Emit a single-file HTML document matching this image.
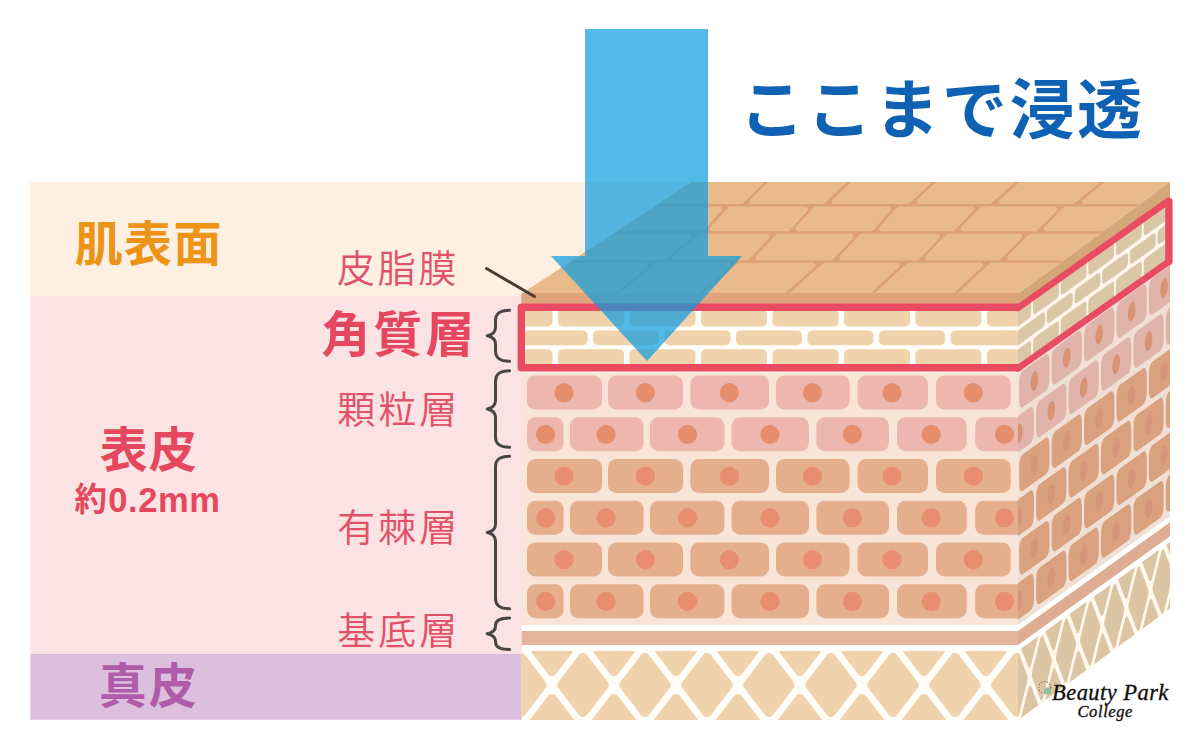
<!DOCTYPE html>
<html lang="ja">
<head>
<meta charset="utf-8">
<title>ここまで浸透</title>
<style>html,body{margin:0;padding:0;background:#fff}body{width:1200px;height:750px;overflow:hidden}svg{display:block}</style>
</head>
<body>
<svg width="1200" height="750" viewBox="0 0 1200 750">
<defs>
<clipPath id="cf"><rect x="521.5" y="294" width="496.5" height="426"/></clipPath>
<clipPath id="cside"><polygon points="1018,294 1170,182 1170,608.5 1018,720"/></clipPath>
<clipPath id="cd"><rect x="500" y="651" width="540" height="80"/></clipPath>
<clipPath id="cds"><rect x="-5" y="651" width="440" height="100"/></clipPath>
</defs>
<rect width="1200" height="750" fill="#fff"/>
<rect x="30.4" y="182.2" width="700" height="114" fill="#FDF0E0"/>
<rect x="30.4" y="296" width="495" height="358" fill="#FBE3E3"/>
<rect x="30.4" y="654" width="495" height="65.8" fill="#DCBFDC"/>
<g clip-path="url(#cf)">
<rect x="521.5" y="294" width="496.5" height="426" fill="#F9E4D8"/>
<rect x="521.5" y="294" width="496.5" height="10" fill="#DFA47B"/>
<rect x="521.5" y="303.5" width="496.5" height="69" fill="#FFFDF9"/>
<rect x="486.5" y="309" width="66" height="17.4" rx="5" ry="5" fill="#F0D2AC"/>
<rect x="558" y="309" width="66" height="17.4" rx="5" ry="5" fill="#F0D2AC"/>
<rect x="629.5" y="309" width="66" height="17.4" rx="5" ry="5" fill="#F0D2AC"/>
<rect x="701" y="309" width="66" height="17.4" rx="5" ry="5" fill="#F0D2AC"/>
<rect x="772.5" y="309" width="66" height="17.4" rx="5" ry="5" fill="#F0D2AC"/>
<rect x="844" y="309" width="66" height="17.4" rx="5" ry="5" fill="#F0D2AC"/>
<rect x="915.5" y="309" width="66" height="17.4" rx="5" ry="5" fill="#F0D2AC"/>
<rect x="987" y="309" width="66" height="17.4" rx="5" ry="5" fill="#F0D2AC"/>
<rect x="521.5" y="330.4" width="66" height="14.8" rx="5" ry="5" fill="#F0D2AC"/>
<rect x="593" y="330.4" width="66" height="14.8" rx="5" ry="5" fill="#F0D2AC"/>
<rect x="664.5" y="330.4" width="66" height="14.8" rx="5" ry="5" fill="#F0D2AC"/>
<rect x="736" y="330.4" width="66" height="14.8" rx="5" ry="5" fill="#F0D2AC"/>
<rect x="807.5" y="330.4" width="66" height="14.8" rx="5" ry="5" fill="#F0D2AC"/>
<rect x="879" y="330.4" width="66" height="14.8" rx="5" ry="5" fill="#F0D2AC"/>
<rect x="950.5" y="330.4" width="66" height="14.8" rx="5" ry="5" fill="#F0D2AC"/>
<rect x="1022" y="330.4" width="66" height="14.8" rx="5" ry="5" fill="#F0D2AC"/>
<rect x="486.5" y="349.2" width="66" height="17" rx="5" ry="5" fill="#F0D2AC"/>
<rect x="558" y="349.2" width="66" height="17" rx="5" ry="5" fill="#F0D2AC"/>
<rect x="629.5" y="349.2" width="66" height="17" rx="5" ry="5" fill="#F0D2AC"/>
<rect x="701" y="349.2" width="66" height="17" rx="5" ry="5" fill="#F0D2AC"/>
<rect x="772.5" y="349.2" width="66" height="17" rx="5" ry="5" fill="#F0D2AC"/>
<rect x="844" y="349.2" width="66" height="17" rx="5" ry="5" fill="#F0D2AC"/>
<rect x="915.5" y="349.2" width="66" height="17" rx="5" ry="5" fill="#F0D2AC"/>
<rect x="987" y="349.2" width="66" height="17" rx="5" ry="5" fill="#F0D2AC"/>
<rect x="1000" y="330.4" width="30" height="14.8" fill="#F0D2AC"/>
<rect x="527" y="375.5" width="75" height="34" rx="8.5" fill="#EDB6AE"/>
<circle cx="564" cy="392.7" r="9.6" fill="#E68E6C"/>
<rect x="608" y="375.5" width="75" height="34" rx="8.5" fill="#EDB6AE"/>
<circle cx="645.4" cy="392.7" r="9.6" fill="#E68E6C"/>
<rect x="690.4" y="375.5" width="78.6" height="34" rx="8.5" fill="#EDB6AE"/>
<circle cx="729.4" cy="392.7" r="9.6" fill="#E68E6C"/>
<rect x="776" y="375.5" width="73.6" height="34" rx="8.5" fill="#EDB6AE"/>
<circle cx="812.4" cy="392.7" r="9.6" fill="#E68E6C"/>
<rect x="857.6" y="375.5" width="70.4" height="34" rx="8.5" fill="#EDB6AE"/>
<circle cx="892" cy="392.7" r="9.6" fill="#E68E6C"/>
<rect x="936" y="375.5" width="74.7" height="34" rx="8.5" fill="#EDB6AE"/>
<circle cx="973.3" cy="392.7" r="9.6" fill="#E68E6C"/>
<rect x="527" y="417.25" width="36.6" height="34" rx="8.5" fill="#EDB6AE"/>
<circle cx="545.6" cy="434.45" r="9.6" fill="#E68E6C"/>
<rect x="570" y="417.25" width="73.6" height="34" rx="8.5" fill="#EDB6AE"/>
<circle cx="606" cy="434.45" r="9.6" fill="#E68E6C"/>
<rect x="650" y="417.25" width="74.4" height="34" rx="8.5" fill="#EDB6AE"/>
<circle cx="687.5" cy="434.45" r="9.6" fill="#E68E6C"/>
<rect x="731.6" y="417.25" width="77.4" height="34" rx="8.5" fill="#EDB6AE"/>
<circle cx="770" cy="434.45" r="9.6" fill="#E68E6C"/>
<rect x="816.4" y="417.25" width="72.6" height="34" rx="8.5" fill="#EDB6AE"/>
<circle cx="852.4" cy="434.45" r="9.6" fill="#E68E6C"/>
<rect x="897" y="417.25" width="69.7" height="34" rx="8.5" fill="#EDB6AE"/>
<circle cx="931.2" cy="434.45" r="9.6" fill="#E68E6C"/>
<rect x="975.2" y="417.25" width="76.8" height="34" rx="8.5" fill="#EDB6AE"/>
<circle cx="1004.5" cy="434.45" r="9.6" fill="#E68E6C"/>
<rect x="527" y="459" width="75" height="34" rx="8.5" fill="#E5AE8C"/>
<circle cx="564" cy="476.2" r="9.6" fill="#E98D72"/>
<rect x="608" y="459" width="75" height="34" rx="8.5" fill="#E5AE8C"/>
<circle cx="645.4" cy="476.2" r="9.6" fill="#E98D72"/>
<rect x="690.4" y="459" width="78.6" height="34" rx="8.5" fill="#E5AE8C"/>
<circle cx="729.4" cy="476.2" r="9.6" fill="#E98D72"/>
<rect x="776" y="459" width="73.6" height="34" rx="8.5" fill="#E5AE8C"/>
<circle cx="812.4" cy="476.2" r="9.6" fill="#E98D72"/>
<rect x="857.6" y="459" width="70.4" height="34" rx="8.5" fill="#E5AE8C"/>
<circle cx="892" cy="476.2" r="9.6" fill="#E98D72"/>
<rect x="936" y="459" width="74.7" height="34" rx="8.5" fill="#E5AE8C"/>
<circle cx="973.3" cy="476.2" r="9.6" fill="#E98D72"/>
<rect x="527" y="500.75" width="36.6" height="34" rx="8.5" fill="#E5AE8C"/>
<circle cx="545.6" cy="517.95" r="9.6" fill="#E98D72"/>
<rect x="570" y="500.75" width="73.6" height="34" rx="8.5" fill="#E5AE8C"/>
<circle cx="606" cy="517.95" r="9.6" fill="#E98D72"/>
<rect x="650" y="500.75" width="74.4" height="34" rx="8.5" fill="#E5AE8C"/>
<circle cx="687.5" cy="517.95" r="9.6" fill="#E98D72"/>
<rect x="731.6" y="500.75" width="77.4" height="34" rx="8.5" fill="#E5AE8C"/>
<circle cx="770" cy="517.95" r="9.6" fill="#E98D72"/>
<rect x="816.4" y="500.75" width="72.6" height="34" rx="8.5" fill="#E5AE8C"/>
<circle cx="852.4" cy="517.95" r="9.6" fill="#E98D72"/>
<rect x="897" y="500.75" width="69.7" height="34" rx="8.5" fill="#E5AE8C"/>
<circle cx="931.2" cy="517.95" r="9.6" fill="#E98D72"/>
<rect x="975.2" y="500.75" width="76.8" height="34" rx="8.5" fill="#E5AE8C"/>
<circle cx="1004.5" cy="517.95" r="9.6" fill="#E98D72"/>
<rect x="527" y="542.5" width="75" height="34" rx="8.5" fill="#E5AE8C"/>
<circle cx="564" cy="559.7" r="9.6" fill="#E98D72"/>
<rect x="608" y="542.5" width="75" height="34" rx="8.5" fill="#E5AE8C"/>
<circle cx="645.4" cy="559.7" r="9.6" fill="#E98D72"/>
<rect x="690.4" y="542.5" width="78.6" height="34" rx="8.5" fill="#E5AE8C"/>
<circle cx="729.4" cy="559.7" r="9.6" fill="#E98D72"/>
<rect x="776" y="542.5" width="73.6" height="34" rx="8.5" fill="#E5AE8C"/>
<circle cx="812.4" cy="559.7" r="9.6" fill="#E98D72"/>
<rect x="857.6" y="542.5" width="70.4" height="34" rx="8.5" fill="#E5AE8C"/>
<circle cx="892" cy="559.7" r="9.6" fill="#E98D72"/>
<rect x="936" y="542.5" width="74.7" height="34" rx="8.5" fill="#E5AE8C"/>
<circle cx="973.3" cy="559.7" r="9.6" fill="#E98D72"/>
<rect x="527" y="584.25" width="36.6" height="34" rx="8.5" fill="#E5AE8C"/>
<circle cx="545.6" cy="601.45" r="9.6" fill="#E98D72"/>
<rect x="570" y="584.25" width="73.6" height="34" rx="8.5" fill="#E5AE8C"/>
<circle cx="606" cy="601.45" r="9.6" fill="#E98D72"/>
<rect x="650" y="584.25" width="74.4" height="34" rx="8.5" fill="#E5AE8C"/>
<circle cx="687.5" cy="601.45" r="9.6" fill="#E98D72"/>
<rect x="731.6" y="584.25" width="77.4" height="34" rx="8.5" fill="#E5AE8C"/>
<circle cx="770" cy="601.45" r="9.6" fill="#E98D72"/>
<rect x="816.4" y="584.25" width="72.6" height="34" rx="8.5" fill="#E5AE8C"/>
<circle cx="852.4" cy="601.45" r="9.6" fill="#E98D72"/>
<rect x="897" y="584.25" width="69.7" height="34" rx="8.5" fill="#E5AE8C"/>
<circle cx="931.2" cy="601.45" r="9.6" fill="#E98D72"/>
<rect x="975.2" y="584.25" width="76.8" height="34" rx="8.5" fill="#E5AE8C"/>
<circle cx="1004.5" cy="601.45" r="9.6" fill="#E98D72"/>
<rect x="521.5" y="625" width="496.5" height="26" fill="#FFFFFF"/>
<rect x="521.5" y="631" width="496.5" height="14" fill="#E5B49C"/>
<g clip-path="url(#cd)"><rect x="521.5" y="645" width="496.5" height="110" fill="#FFFDF8"/>
<path d="M500.3 685L521 658.02L541.7 685L521 711.98ZM469.3 644L490 617.02L510.7 644L490 670.98ZM469.3 726L490 699.02L510.7 726L490 752.98ZM500.3 767L521 740.02L541.7 767L521 793.98ZM562.3 685L583 658.02L603.7 685L583 711.98ZM531.3 644L552 617.02L572.7 644L552 670.98ZM531.3 726L552 699.02L572.7 726L552 752.98ZM562.3 767L583 740.02L603.7 767L583 793.98ZM624.3 685L645 658.02L665.7 685L645 711.98ZM593.3 644L614 617.02L634.7 644L614 670.98ZM593.3 726L614 699.02L634.7 726L614 752.98ZM624.3 767L645 740.02L665.7 767L645 793.98ZM686.3 685L707 658.02L727.7 685L707 711.98ZM655.3 644L676 617.02L696.7 644L676 670.98ZM655.3 726L676 699.02L696.7 726L676 752.98ZM686.3 767L707 740.02L727.7 767L707 793.98ZM748.3 685L769 658.02L789.7 685L769 711.98ZM717.3 644L738 617.02L758.7 644L738 670.98ZM717.3 726L738 699.02L758.7 726L738 752.98ZM748.3 767L769 740.02L789.7 767L769 793.98ZM810.3 685L831 658.02L851.7 685L831 711.98ZM779.3 644L800 617.02L820.7 644L800 670.98ZM779.3 726L800 699.02L820.7 726L800 752.98ZM810.3 767L831 740.02L851.7 767L831 793.98ZM872.3 685L893 658.02L913.7 685L893 711.98ZM841.3 644L862 617.02L882.7 644L862 670.98ZM841.3 726L862 699.02L882.7 726L862 752.98ZM872.3 767L893 740.02L913.7 767L893 793.98ZM934.3 685L955 658.02L975.7 685L955 711.98ZM903.3 644L924 617.02L944.7 644L924 670.98ZM903.3 726L924 699.02L944.7 726L924 752.98ZM934.3 767L955 740.02L975.7 767L955 793.98ZM996.3 685L1017 658.02L1037.7 685L1017 711.98ZM965.3 644L986 617.02L1006.7 644L986 670.98ZM965.3 726L986 699.02L1006.7 726L986 752.98ZM996.3 767L1017 740.02L1037.7 767L1017 793.98ZM1058.3 685L1079 658.02L1099.7 685L1079 711.98ZM1027.3 644L1048 617.02L1068.7 644L1048 670.98ZM1027.3 726L1048 699.02L1068.7 726L1048 752.98ZM1058.3 767L1079 740.02L1099.7 767L1079 793.98Z" fill="#F0D3AD" stroke="#F0D3AD" stroke-width="10" stroke-linejoin="round"/></g>
</g>
<g clip-path="url(#cside)">
<polygon points="1018,280 1170,170 1170,620 1018,730" fill="#F0DFD5"/>
<g transform="matrix(0.38680 -0.27656 0 1 1018.000 0)">
<rect x="0" y="303.5" width="420" height="69" fill="#FFF8EA"/>
<rect x="-32.8" y="309" width="67" height="17.4" rx="8" ry="3.5" fill="#D9C7A8"/>
<rect x="38.7" y="309" width="67" height="17.4" rx="8" ry="3.5" fill="#D9C7A8"/>
<rect x="110.2" y="309" width="67" height="17.4" rx="8" ry="3.5" fill="#D9C7A8"/>
<rect x="181.7" y="309" width="67" height="17.4" rx="8" ry="3.5" fill="#D9C7A8"/>
<rect x="253.2" y="309" width="67" height="17.4" rx="8" ry="3.5" fill="#D9C7A8"/>
<rect x="324.7" y="309" width="67" height="17.4" rx="8" ry="3.5" fill="#D9C7A8"/>
<rect x="396.2" y="309" width="67" height="17.4" rx="8" ry="3.5" fill="#D9C7A8"/>
<rect x="3" y="330.4" width="67" height="14.8" rx="8" ry="3.5" fill="#D9C7A8"/>
<rect x="74.5" y="330.4" width="67" height="14.8" rx="8" ry="3.5" fill="#D9C7A8"/>
<rect x="146" y="330.4" width="67" height="14.8" rx="8" ry="3.5" fill="#D9C7A8"/>
<rect x="217.5" y="330.4" width="67" height="14.8" rx="8" ry="3.5" fill="#D9C7A8"/>
<rect x="289" y="330.4" width="67" height="14.8" rx="8" ry="3.5" fill="#D9C7A8"/>
<rect x="360.5" y="330.4" width="67" height="14.8" rx="8" ry="3.5" fill="#D9C7A8"/>
<rect x="-32.8" y="349.2" width="67" height="17" rx="8" ry="3.5" fill="#D9C7A8"/>
<rect x="38.7" y="349.2" width="67" height="17" rx="8" ry="3.5" fill="#D9C7A8"/>
<rect x="110.2" y="349.2" width="67" height="17" rx="8" ry="3.5" fill="#D9C7A8"/>
<rect x="181.7" y="349.2" width="67" height="17" rx="8" ry="3.5" fill="#D9C7A8"/>
<rect x="253.2" y="349.2" width="67" height="17" rx="8" ry="3.5" fill="#D9C7A8"/>
<rect x="324.7" y="349.2" width="67" height="17" rx="8" ry="3.5" fill="#D9C7A8"/>
<rect x="396.2" y="349.2" width="67" height="17" rx="8" ry="3.5" fill="#D9C7A8"/><rect x="-2" y="330.4" width="20" height="14.8" fill="#D9C7A8"/>
</g>
<g transform="matrix(0.39800 -0.28457 0 1 1018.000 0)">
<rect x="3" y="374.25" width="76" height="36.5" rx="9" fill="#E1B4AB"/>
<circle cx="41" cy="392.7" r="9.6" fill="#D69474"/>
<rect x="84.5" y="374.25" width="76" height="36.5" rx="9" fill="#E1B4AB"/>
<circle cx="122.5" cy="392.7" r="9.6" fill="#D69474"/>
<rect x="166" y="374.25" width="76" height="36.5" rx="9" fill="#E1B4AB"/>
<circle cx="204" cy="392.7" r="9.6" fill="#D69474"/>
<rect x="247.5" y="374.25" width="76" height="36.5" rx="9" fill="#E1B4AB"/>
<circle cx="285.5" cy="392.7" r="9.6" fill="#D69474"/>
<rect x="329" y="374.25" width="76" height="36.5" rx="9" fill="#E1B4AB"/>
<circle cx="367" cy="392.7" r="9.6" fill="#D69474"/>
<rect x="410.5" y="374.25" width="76" height="36.5" rx="9" fill="#E1B4AB"/>
<circle cx="448.5" cy="392.7" r="9.6" fill="#D69474"/>
<rect x="-36" y="416" width="76" height="36.5" rx="9" fill="#E1B4AB"/>
<circle cx="2" cy="434.45" r="9.6" fill="#D69474"/>
<rect x="45.5" y="416" width="76" height="36.5" rx="9" fill="#E1B4AB"/>
<circle cx="83.5" cy="434.45" r="9.6" fill="#D69474"/>
<rect x="127" y="416" width="76" height="36.5" rx="9" fill="#E1B4AB"/>
<circle cx="165" cy="434.45" r="9.6" fill="#D69474"/>
<rect x="208.5" y="416" width="76" height="36.5" rx="9" fill="#E1B4AB"/>
<circle cx="246.5" cy="434.45" r="9.6" fill="#D69474"/>
<rect x="290" y="416" width="76" height="36.5" rx="9" fill="#E1B4AB"/>
<circle cx="328" cy="434.45" r="9.6" fill="#D69474"/>
<rect x="371.5" y="416" width="76" height="36.5" rx="9" fill="#E1B4AB"/>
<circle cx="409.5" cy="434.45" r="9.6" fill="#D69474"/>
<rect x="3" y="457.75" width="76" height="36.5" rx="9" fill="#DAA17F"/>
<circle cx="41" cy="476.2" r="9.6" fill="#D6957A"/>
<rect x="84.5" y="457.75" width="76" height="36.5" rx="9" fill="#DAA17F"/>
<circle cx="122.5" cy="476.2" r="9.6" fill="#D6957A"/>
<rect x="166" y="457.75" width="76" height="36.5" rx="9" fill="#DAA17F"/>
<circle cx="204" cy="476.2" r="9.6" fill="#D6957A"/>
<rect x="247.5" y="457.75" width="76" height="36.5" rx="9" fill="#DAA17F"/>
<circle cx="285.5" cy="476.2" r="9.6" fill="#D6957A"/>
<rect x="329" y="457.75" width="76" height="36.5" rx="9" fill="#DAA17F"/>
<circle cx="367" cy="476.2" r="9.6" fill="#D6957A"/>
<rect x="410.5" y="457.75" width="76" height="36.5" rx="9" fill="#DAA17F"/>
<circle cx="448.5" cy="476.2" r="9.6" fill="#D6957A"/>
<rect x="-36" y="499.5" width="76" height="36.5" rx="9" fill="#DAA17F"/>
<circle cx="2" cy="517.95" r="9.6" fill="#D6957A"/>
<rect x="45.5" y="499.5" width="76" height="36.5" rx="9" fill="#DAA17F"/>
<circle cx="83.5" cy="517.95" r="9.6" fill="#D6957A"/>
<rect x="127" y="499.5" width="76" height="36.5" rx="9" fill="#DAA17F"/>
<circle cx="165" cy="517.95" r="9.6" fill="#D6957A"/>
<rect x="208.5" y="499.5" width="76" height="36.5" rx="9" fill="#DAA17F"/>
<circle cx="246.5" cy="517.95" r="9.6" fill="#D6957A"/>
<rect x="290" y="499.5" width="76" height="36.5" rx="9" fill="#DAA17F"/>
<circle cx="328" cy="517.95" r="9.6" fill="#D6957A"/>
<rect x="371.5" y="499.5" width="76" height="36.5" rx="9" fill="#DAA17F"/>
<circle cx="409.5" cy="517.95" r="9.6" fill="#D6957A"/>
<rect x="3" y="541.25" width="76" height="36.5" rx="9" fill="#DAA17F"/>
<circle cx="41" cy="559.7" r="9.6" fill="#D6957A"/>
<rect x="84.5" y="541.25" width="76" height="36.5" rx="9" fill="#DAA17F"/>
<circle cx="122.5" cy="559.7" r="9.6" fill="#D6957A"/>
<rect x="166" y="541.25" width="76" height="36.5" rx="9" fill="#DAA17F"/>
<circle cx="204" cy="559.7" r="9.6" fill="#D6957A"/>
<rect x="247.5" y="541.25" width="76" height="36.5" rx="9" fill="#DAA17F"/>
<circle cx="285.5" cy="559.7" r="9.6" fill="#D6957A"/>
<rect x="329" y="541.25" width="76" height="36.5" rx="9" fill="#DAA17F"/>
<circle cx="367" cy="559.7" r="9.6" fill="#D6957A"/>
<rect x="410.5" y="541.25" width="76" height="36.5" rx="9" fill="#DAA17F"/>
<circle cx="448.5" cy="559.7" r="9.6" fill="#D6957A"/>
<rect x="-36" y="583" width="76" height="36.5" rx="9" fill="#DAA17F"/>
<circle cx="2" cy="601.45" r="9.6" fill="#D6957A"/>
<rect x="45.5" y="583" width="76" height="36.5" rx="9" fill="#DAA17F"/>
<circle cx="83.5" cy="601.45" r="9.6" fill="#D6957A"/>
<rect x="127" y="583" width="76" height="36.5" rx="9" fill="#DAA17F"/>
<circle cx="165" cy="601.45" r="9.6" fill="#D6957A"/>
<rect x="208.5" y="583" width="76" height="36.5" rx="9" fill="#DAA17F"/>
<circle cx="246.5" cy="601.45" r="9.6" fill="#D6957A"/>
<rect x="290" y="583" width="76" height="36.5" rx="9" fill="#DAA17F"/>
<circle cx="328" cy="601.45" r="9.6" fill="#D6957A"/>
<rect x="371.5" y="583" width="76" height="36.5" rx="9" fill="#DAA17F"/>
<circle cx="409.5" cy="601.45" r="9.6" fill="#D6957A"/>
</g>
<g transform="matrix(0.39500 -0.28242 0 1 1018.000 0)">
<rect x="0" y="625" width="420" height="26" fill="#FFFFFF"/>
<rect x="0" y="631" width="420" height="14" fill="#DEAD93"/>
</g>
<g transform="matrix(0.39000 -0.27885 0 1 1018.000 0)">
<g clip-path="url(#cds)"><rect x="0" y="645" width="420" height="110" fill="#FFF8EC"/>
<path d="M-21.7 685L-1 658.02L19.7 685L-1 711.98ZM-52.7 644L-32 617.02L-11.3 644L-32 670.98ZM-52.7 726L-32 699.02L-11.3 726L-32 752.98ZM-21.7 767L-1 740.02L19.7 767L-1 793.98ZM40.3 685L61 658.02L81.7 685L61 711.98ZM9.3 644L30 617.02L50.7 644L30 670.98ZM9.3 726L30 699.02L50.7 726L30 752.98ZM40.3 767L61 740.02L81.7 767L61 793.98ZM102.3 685L123 658.02L143.7 685L123 711.98ZM71.3 644L92 617.02L112.7 644L92 670.98ZM71.3 726L92 699.02L112.7 726L92 752.98ZM102.3 767L123 740.02L143.7 767L123 793.98ZM164.3 685L185 658.02L205.7 685L185 711.98ZM133.3 644L154 617.02L174.7 644L154 670.98ZM133.3 726L154 699.02L174.7 726L154 752.98ZM164.3 767L185 740.02L205.7 767L185 793.98ZM226.3 685L247 658.02L267.7 685L247 711.98ZM195.3 644L216 617.02L236.7 644L216 670.98ZM195.3 726L216 699.02L236.7 726L216 752.98ZM226.3 767L247 740.02L267.7 767L247 793.98ZM288.3 685L309 658.02L329.7 685L309 711.98ZM257.3 644L278 617.02L298.7 644L278 670.98ZM257.3 726L278 699.02L298.7 726L278 752.98ZM288.3 767L309 740.02L329.7 767L309 793.98ZM350.3 685L371 658.02L391.7 685L371 711.98ZM319.3 644L340 617.02L360.7 644L340 670.98ZM319.3 726L340 699.02L360.7 726L340 752.98ZM350.3 767L371 740.02L391.7 767L371 793.98ZM412.3 685L433 658.02L453.7 685L433 711.98ZM381.3 644L402 617.02L422.7 644L402 670.98ZM381.3 726L402 699.02L422.7 726L402 752.98ZM412.3 767L433 740.02L453.7 767L433 793.98ZM474.3 685L495 658.02L515.7 685L495 711.98ZM443.3 644L464 617.02L484.7 644L464 670.98ZM443.3 726L464 699.02L484.7 726L464 752.98ZM474.3 767L495 740.02L515.7 767L495 793.98Z" fill="#DBC5A3" stroke="#DBC5A3" stroke-width="10" stroke-linejoin="round"/></g>
</g>
<polygon points="1018,294 1170,182 1170,200 1018,307" fill="#D3A678"/>
</g>
<clipPath id="ctop"><polygon points="521.5,294 1018,294 1170,182 692,182"/></clipPath>
<polygon points="521.5,294 1018,294 1170,182 692,182" fill="#DCA074"/>
<g clip-path="url(#ctop)"><path d="M576.42 177L765.46 177L741.37 201.4L552.33 201.4ZM776.42 177L848.55 177L823.42 201.4L752.33 201.4ZM859.75 177L933.6 177L907.94 201.4L834.62 201.4ZM944.92 177L1017.82 177L989.55 201.4L919.26 201.4ZM1029.76 177L1103 177L1072.63 201.4L1001.49 201.4ZM1115.45 177L1303 177L1272.63 201.4L1085.08 201.4ZM529.76 209.2L719.36 209.2L702.24 228.6L512.64 228.6ZM729.76 209.2L805.24 209.2L787.76 228.6L712.64 228.6ZM815.74 209.2L888.36 209.2L871.24 228.6L798.26 228.6ZM898.76 209.2L971.63 209.2L952.38 228.6L881.64 228.6ZM982.62 209.2L1054.63 209.2L1035.38 228.6L963.37 228.6ZM1065.62 209.2L1254.63 209.2L1235.38 228.6L1046.37 228.6ZM501.38 236.4L688.94 236.4L662.62 257.6L475.06 257.6ZM701.38 236.4L767.04 236.4L747.3 257.6L675.06 257.6ZM777.7 236.4L851.04 236.4L831.3 257.6L757.96 257.6ZM861.7 236.4L937.04 236.4L917.3 257.6L841.96 257.6ZM947.7 236.4L1019.58 236.4L998.38 257.6L927.96 257.6ZM1030.62 236.4L1219.58 236.4L1198.38 257.6L1009.42 257.6ZM457.41 265.4L645.18 265.4L605.86 298L418.08 298ZM657.41 265.4L727.62 265.4L690.36 298L618.08 298ZM739.47 265.4L812.73 265.4L775.99 298L702.21 298ZM824.48 265.4L897.05 265.4L861.86 298L787.74 298ZM908.53 265.4L980.05 265.4L944.86 298L873.34 298ZM991.53 265.4L1180.05 265.4L1144.86 298L956.34 298Z" fill="#E9BA8A" stroke="#E9BA8A" stroke-width="5.2" stroke-linejoin="round"/></g>
<rect x="521.5" y="293" width="496.5" height="12" fill="#DFA47B"/>
<polygon points="1018,293 1019.5,291.9 1018,300" fill="#D3A678"/>
<g fill="none" stroke="#E94B62" stroke-linecap="round" stroke-linejoin="round">
<path d="M1018 307.3L521.3 307.3L521.3 367.8L1018 367.8M1168.9 201.5L1168.9 261.5" stroke-width="7.4"/>
<path d="M1018 307.90000000000003L1168.3000000000002 201M1018 368.40000000000003L1168.3000000000002 262" stroke-width="6.6"/>
</g>
<polygon points="585,29 708,29 708,256 742,256 647,361 551,256 585,256" fill="#0D9CDE" fill-opacity="0.71"/>
<line x1="486.5" y1="268.5" x2="534.5" y2="296.5" stroke="#4A3C36" stroke-width="3" stroke-linecap="round"/>
<path d="M509.6 310.2C498.5 310.2 495.5 314.4 495.5 320.7L495.5 327.2C495.5 332.3 492.5 334.7 487.2 335.7C492.5 336.7 495.5 339.1 495.5 344.2L495.5 350.7C495.5 357 498.5 361.2 509.6 361.2" fill="none" stroke="#4A4648" stroke-width="3" stroke-linecap="round" stroke-linejoin="round"/>
<path d="M509.6 370.8C498.5 370.8 495.5 375 495.5 381.3L495.5 400.5C495.5 405.6 492.5 408 487.2 409C492.5 410 495.5 412.4 495.5 417.5L495.5 436.7C495.5 443 498.5 447.2 509.6 447.2" fill="none" stroke="#4A4648" stroke-width="3" stroke-linecap="round" stroke-linejoin="round"/>
<path d="M509.6 456.2C498.5 456.2 495.5 460.4 495.5 466.7L495.5 523.95C495.5 529.05 492.5 531.45 487.2 532.45C492.5 533.45 495.5 535.85 495.5 540.95L495.5 598.2C495.5 604.5 498.5 608.7 509.6 608.7" fill="none" stroke="#4A4648" stroke-width="3" stroke-linecap="round" stroke-linejoin="round"/>
<path d="M509.6 618C498.5 618 495.5 621 495.5 625.5L495.5 626.25C495.5 630.75 492.5 632.75 487.2 633.75C492.5 634.75 495.5 636.75 495.5 641.25L495.5 642C495.5 646.5 498.5 649.5 509.6 649.5" fill="none" stroke="#4A4648" stroke-width="3" stroke-linecap="round" stroke-linejoin="round"/>
<g font-family='"Liberation Sans", "Noto Sans CJK JP", sans-serif'>
<text x="739.5" y="133" font-size="65" font-weight="700" fill="#0F62B3" letter-spacing="2.5" text-anchor="start" >ここまで浸透</text>
<text x="74.8" y="260.5" font-size="48" font-weight="700" fill="#EC9318" letter-spacing="1.3" text-anchor="start" >肌表面</text>
<text x="337" y="281.5" font-size="38" font-weight="350" fill="#E2506A" letter-spacing="2.8" text-anchor="start" >皮脂膜</text>
<text x="321.3" y="351.5" font-size="49" font-weight="700" fill="#E5475E" letter-spacing="3" text-anchor="start" >角質層</text>
<text x="337.3" y="422.8" font-size="38" font-weight="350" fill="#E2506A" letter-spacing="3" text-anchor="start" >顆粒層</text>
<text x="337.2" y="541" font-size="38" font-weight="350" fill="#E2506A" letter-spacing="3" text-anchor="start" >有棘層</text>
<text x="337.3" y="644.3" font-size="38" font-weight="350" fill="#E2506A" letter-spacing="3" text-anchor="start" >基底層</text>
<text x="99.8" y="466.7" font-size="48" font-weight="700" fill="#E5475E" letter-spacing="1" text-anchor="start" >表皮</text>
<text x="74.6" y="511.3" font-size="32.5" font-weight="700" fill="#E5475E">約<tspan font-size="34.5" dx="1.2" dy="1" letter-spacing="0.6">0.2mm</tspan></text>
<text x="98.8" y="703" font-size="48" font-weight="700" fill="#B05CAB" letter-spacing="2" text-anchor="start" >真皮</text>
</g>
<circle cx="1044.7" cy="687.5" r="6" fill="none" stroke="#333" stroke-width="1" stroke-dasharray="1 2"/>
<circle cx="1047.5" cy="691" r="3.6" fill="#8FBF9A"/>
<g font-family='"Liberation Serif", serif' font-style="italic" font-weight="400" fill="#111" stroke="#111" stroke-width="0.35">
<text x="1052" y="699.5" font-size="22.5" letter-spacing="0.45">Beauty Park</text>
<text x="1077.5" y="716.5" font-size="16.5" letter-spacing="0.6">College</text>
</g>
</svg>
</body>
</html>
